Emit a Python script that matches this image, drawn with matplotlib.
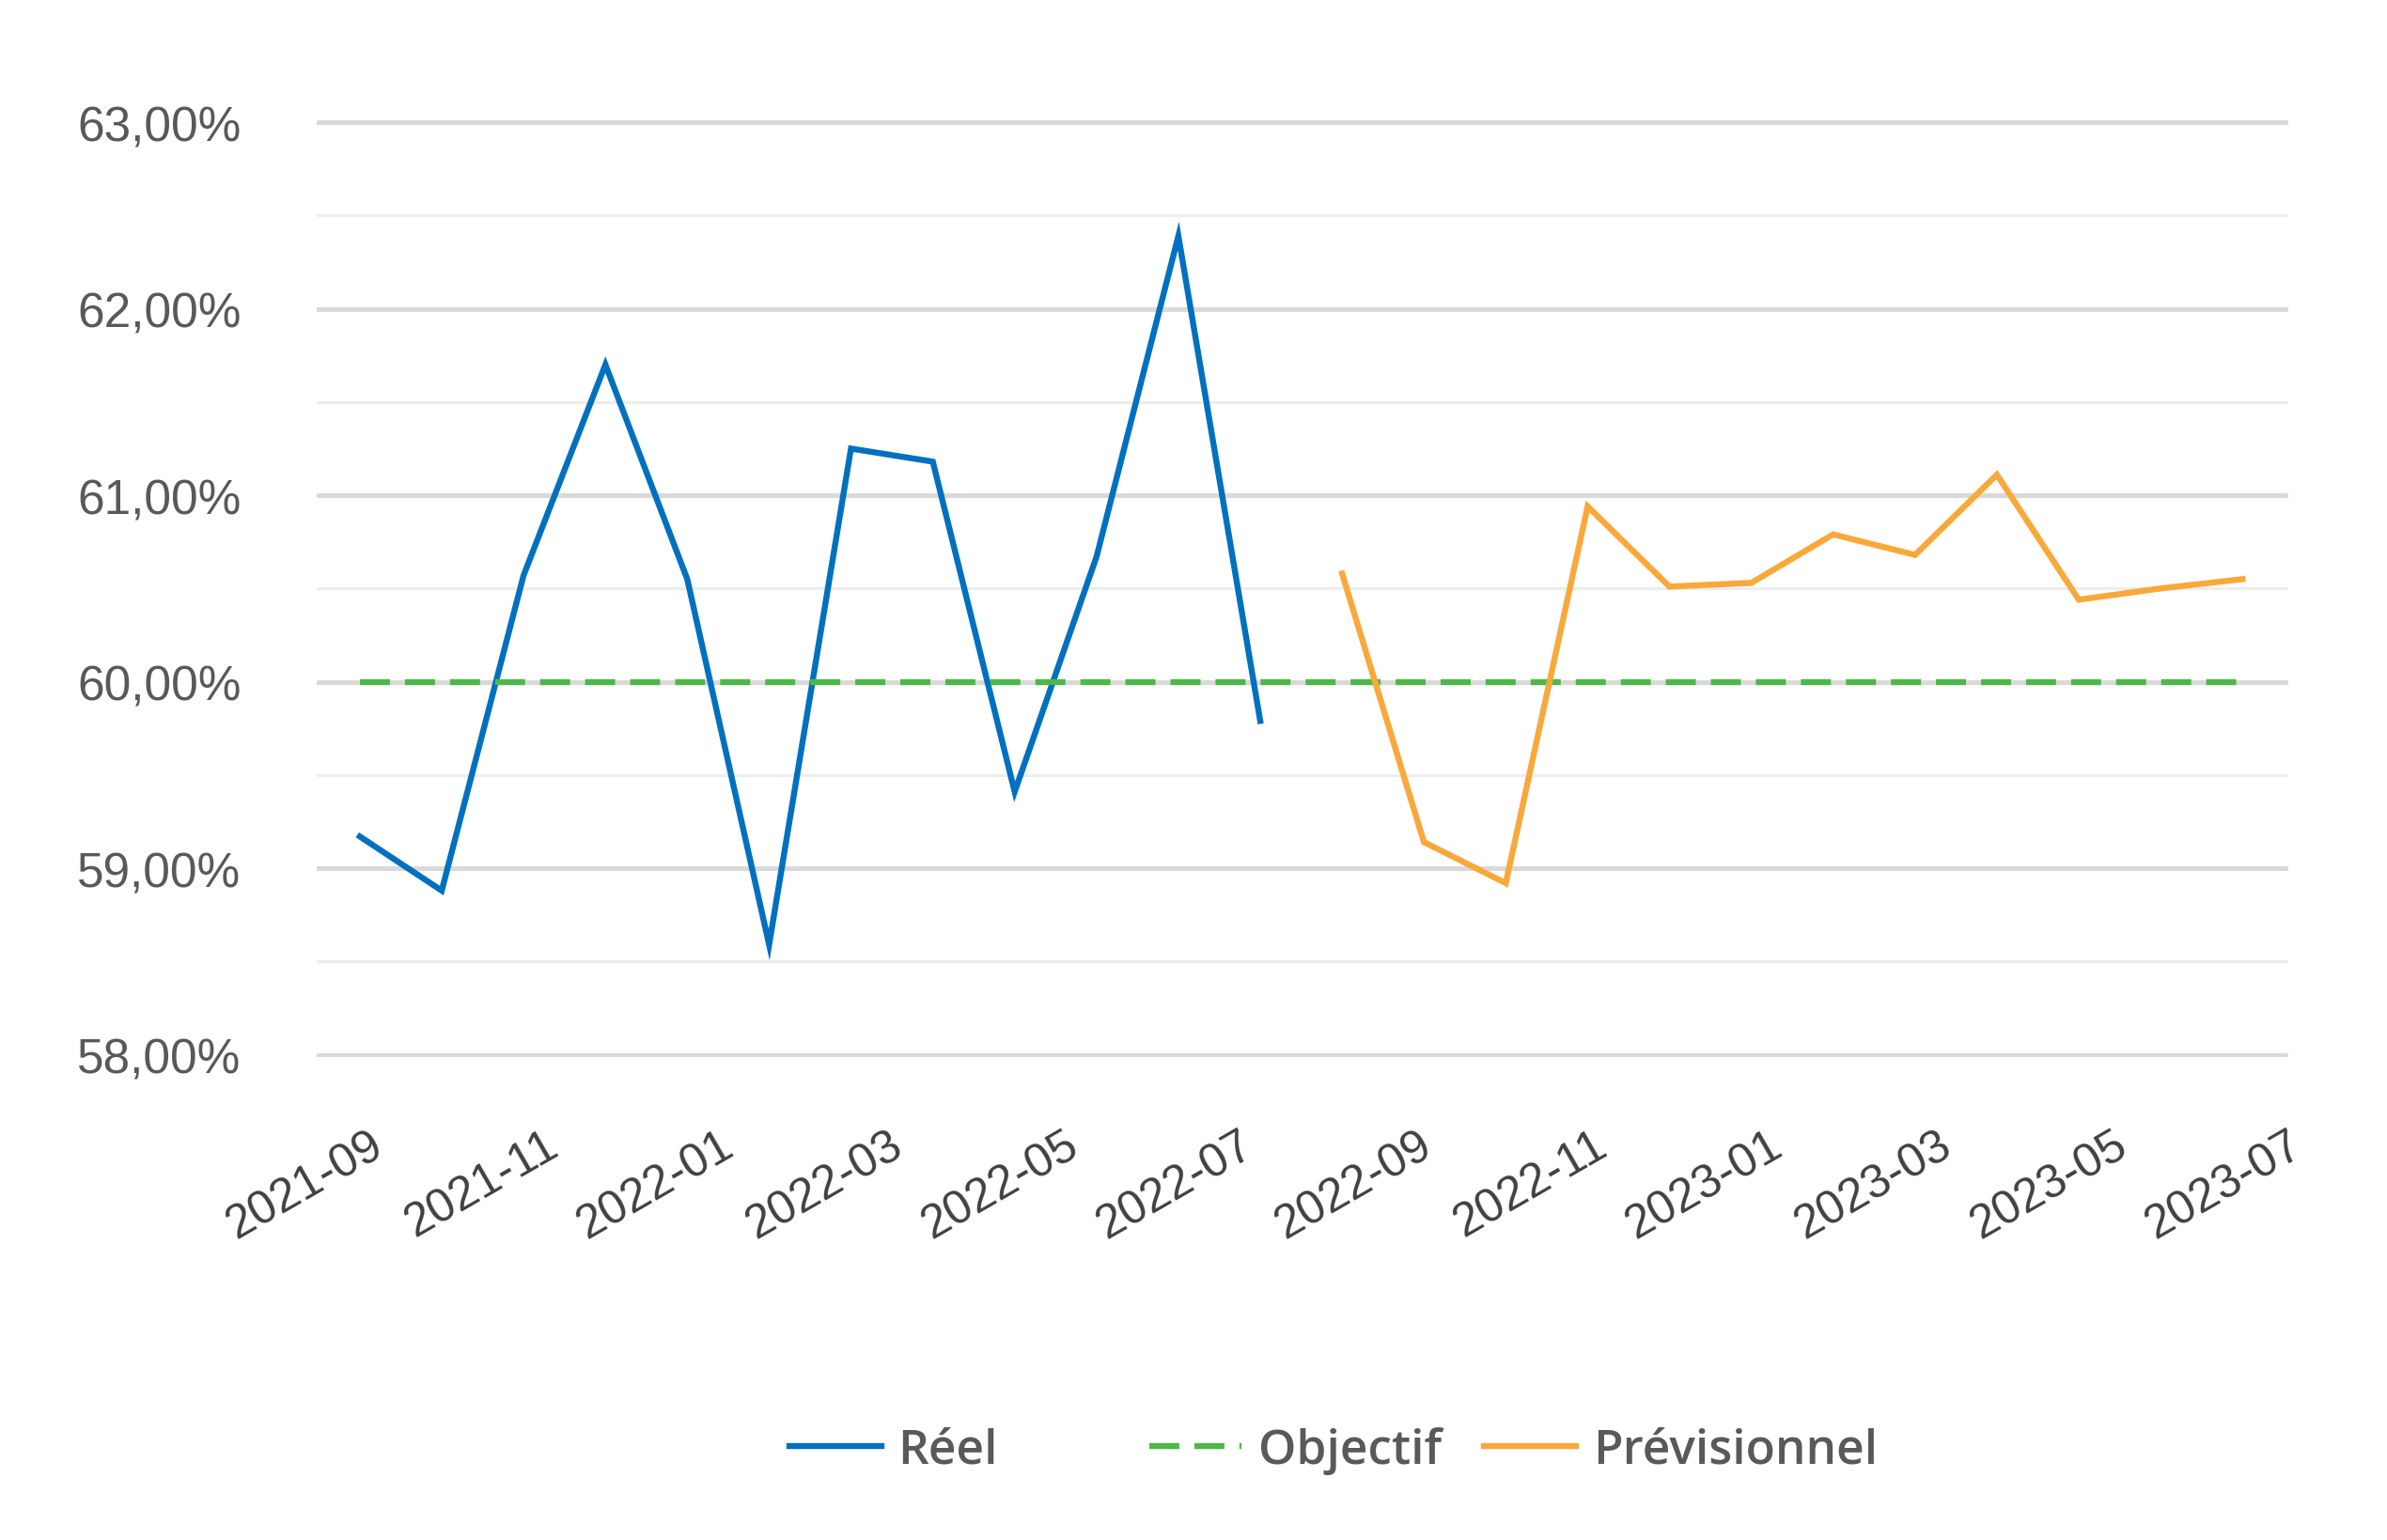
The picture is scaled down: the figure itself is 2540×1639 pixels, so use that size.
import numpy as np
import pandas as pd
import matplotlib
matplotlib.use("Agg")
import matplotlib.pyplot as plt
import matplotlib.dates as mdates
from matplotlib.ticker import FuncFormatter, MultipleLocator

# ==========================================
# Data
# ==========================================

# 24 periodes (environ 4 semaines), 12 reelles puis 12 prevues
dates = pd.date_range("2021-08-29", "2023-06-15", periods=24)

reel = [59.17, 58.88, 60.57, 61.70, 60.55, 58.59,
        61.25, 61.18, 59.41, 60.67, 62.39, 59.79]

previsionnel = [60.58, 59.14, 58.92, 60.94, 60.51, 60.53,
                60.79, 60.68, 61.11, 60.44, 60.50, 60.55]

objectif = 60.0

tick_dates = pd.date_range("2021-09-01", "2023-07-01", freq="2MS")

# ==========================================
# Style
# ==========================================

plt.rcParams['font.family'] = ['Liberation Sans', 'DejaVu Sans']

BLUE = "#0070C0"
GREEN = "#4DB848"
ORANGE = "#F9A83A"

# ==========================================
# Figure
# ==========================================

fig = plt.figure(figsize=(25.4, 16.4), dpi=100)
ax = fig.add_axes([0.1327, 0.3137, 0.826, 0.6076])

ax.plot(dates[:12], reel, color=BLUE, linewidth=4.6, label="Réel",
        solid_joinstyle='miter')
ax.plot([dates[0], dates[-1]], [objectif, objectif], color=GREEN,
        linewidth=4.6, linestyle=(0, (5.0, 2.5)), label="Objectif")
ax.plot(dates[12:], previsionnel, color=ORANGE, linewidth=4.6,
        label="Prévisionnel", solid_joinstyle='miter')

ax.set_ylim(57.99, 63.01)
ax.set_xlim(pd.Timestamp("2021-08-14"), pd.Timestamp("2023-07-01"))

ax.yaxis.set_major_locator(MultipleLocator(1))
ax.yaxis.set_minor_locator(MultipleLocator(0.5))
ax.yaxis.set_major_formatter(
    FuncFormatter(lambda v, p: f"{v:.2f}".replace(".", ",") + "%"))

ax.set_xticks(tick_dates)
ax.xaxis.set_major_formatter(mdates.DateFormatter("%Y-%m"))

ax.grid(axis='y', which='major', color="#D9D9D9", linewidth=3.6, zorder=0)
ax.grid(axis='y', which='minor', color="#EDEDED", linewidth=2.2, zorder=0)
ax.set_axisbelow(True)

for s in ax.spines.values():
    s.set_visible(False)

ax.tick_params(axis='y', which='both', length=0, pad=58,
               labelsize=37, labelcolor="#595959")
ax.tick_params(axis='x', length=0, pad=51, labelsize=36,
               labelcolor="#404040")
for lbl in ax.get_xticklabels():
    lbl.set_rotation(30)
    lbl.set_ha('right')
    lbl.set_va('top')
    lbl.set_rotation_mode('anchor')

# ==========================================
# Legend (three separate entries, as in the original)
# ==========================================

handles = ax.get_lines()
legend_x = [0.3307, 0.4815, 0.6217]
for h, x in zip(handles, legend_x):
    fig.legend([h], [h.get_label()], loc='center left',
               bbox_to_anchor=(x, 0.058), frameon=False,
               borderpad=0, borderaxespad=0, handlelength=1.9,
               handletextpad=0.35,
               prop={'family': ['Open Sans', 'DejaVu Sans'],
                     'weight': 'semibold', 'size': 37},
               labelcolor="#595959")

fig.savefig("out.png", dpi=100, facecolor="white")
